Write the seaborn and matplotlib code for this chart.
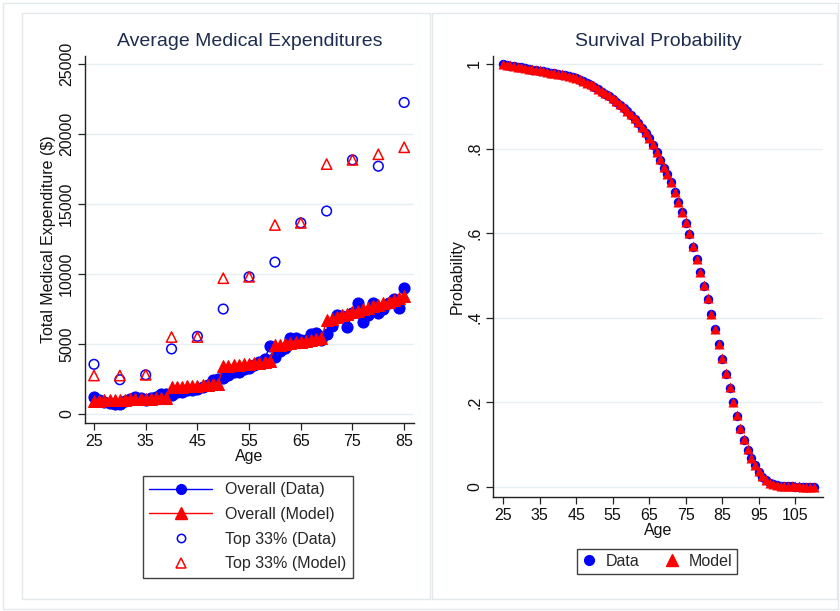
import matplotlib
matplotlib.use("Agg")
import matplotlib.pyplot as plt
import seaborn as sns
import pandas as pd
from matplotlib.patches import Rectangle
from matplotlib.lines import Line2D

# ---------------- data ----------------
ages_exp = list(range(25, 86))
overall_data = [1200, 1000, 850, 800, 700, 750, 900, 1100, 1200, 1150,
                1000, 1150, 1250, 1400, 1400, 1350, 1600, 1600, 1700, 1750,
                1800, 1900, 2100, 2400, 2500, 2600, 2800, 3000, 3000, 3200,
                3300, 3500, 3700, 3900, 4850, 4100, 4500, 4700, 5400, 5400,
                5300, 5300, 5700, 5800, 5300, 5700, 6300, 7050, 7000, 6200,
                7200, 7950, 6600, 7050, 7900, 7250, 7500, 7900, 8250, 7550, 8980]
overall_model = [950, 965, 980, 990, 1000, 1010, 1025, 1040, 1050, 1065,
                 1080, 1095, 1110, 1125, 1150,
                 1900, 1930, 1955, 1980, 2005, 2030, 2060, 2090, 2120, 2150,
                 3400, 3440, 3480, 3520, 3560, 3600, 3640, 3680, 3720, 3760,
                 4900, 4950, 5000, 5060, 5120, 5180, 5240, 5290, 5340, 5400,
                 6700, 6820, 6930, 7040, 7150, 7260, 7370, 7480, 7590, 7700,
                 7810, 7920, 8030, 8140, 8260, 8400]
ages_top = [25, 30, 35, 40, 45, 50, 55, 60, 65, 70, 75, 80, 85]
top_data = [3550, 2450, 2800, 4650, 5550, 7500, 9800, 10850, 13650, 14500, 18150, 17700, 22250]
top_model = [2750, 2750, 2800, 5500, 5500, 9700, 9800, 13500, 13650, 17850, 18150, 18550, 19050]

ages_surv = list(range(25, 111))
surv_model = [1.000, 0.998, 0.997, 0.995, 0.994, 0.992, 0.991, 0.989, 0.988, 0.986,
              0.985, 0.983, 0.982, 0.980, 0.979, 0.977, 0.976, 0.974, 0.972, 0.970,
              0.968, 0.964, 0.960, 0.956, 0.952, 0.947, 0.942, 0.937, 0.932, 0.926,
              0.920, 0.913, 0.905, 0.898, 0.890, 0.882, 0.872, 0.862, 0.851, 0.839,
              0.826, 0.810, 0.793, 0.775, 0.756, 0.741, 0.722, 0.698, 0.674, 0.650,
              0.626, 0.600, 0.569, 0.539, 0.508, 0.477, 0.446, 0.410, 0.374, 0.339,
              0.304, 0.269, 0.235, 0.201, 0.169, 0.139, 0.112, 0.089, 0.069, 0.052,
              0.037, 0.025, 0.017, 0.010, 0.006, 0.004, 0.003, 0.002, 0.001, 0.001,
              0.001, 0.001, 0.000, 0.000, 0.000, 0.000]
surv_data = [1.000, 0.998, 0.996, 0.995, 0.993, 0.992, 0.990, 0.989, 0.987, 0.986,
             0.984, 0.983, 0.981, 0.980, 0.978, 0.977, 0.975, 0.973, 0.971, 0.969,
             0.967, 0.963, 0.959, 0.955, 0.950, 0.945, 0.940, 0.935, 0.930, 0.924,
             0.918, 0.911, 0.904, 0.896, 0.888, 0.880, 0.870, 0.860, 0.849, 0.837,
             0.824, 0.809, 0.792, 0.774, 0.755, 0.739, 0.720, 0.697, 0.673, 0.649,
             0.625, 0.599, 0.568, 0.538, 0.507, 0.476, 0.444, 0.409, 0.373, 0.338,
             0.303, 0.268, 0.234, 0.200, 0.168, 0.138, 0.111, 0.088, 0.068, 0.051,
             0.036, 0.024, 0.016, 0.010, 0.006, 0.004, 0.002, 0.001, 0.001, 0.001,
             0.000, 0.000, 0.000, 0.000, 0.000, 0.000]

exp_ticks = [0, 5000, 10000, 15000, 20000, 25000]
exp_xticks = [25, 35, 45, 55, 65, 75, 85]
surv_yticks = [0, 0.2, 0.4, 0.6, 0.8, 1.0]
surv_yticklabels = ["0", ".2", ".4", ".6", ".8", "1"]
surv_xticks = [25, 35, 45, 55, 65, 75, 85, 95, 105]

# ---------------- style ----------------
sns.set_style("white")
plt.rcParams['font.family'] = ['Liberation Sans', 'DejaVu Sans']

BLUE = "#0000ff"
RED = "#ff0000"
TITLE_C = "#1e2d4f"
GRID_C = "#e6eff1"
FRAME_C = "#e3e8eb"
FS_TICK = 11.5
FS_LAB = 11.5
FS_TITLE = 14
FS_LEG = 11.5

fig = plt.figure(figsize=(8.4, 6.11), dpi=100)
W, H = 840, 611

def fr(x0, y0, x1, y1):
    return [x0 / W, 1 - y1 / H, (x1 - x0) / W, (y1 - y0) / H]

# outer frame and panel frames
fig.patches.append(Rectangle((2.5 / W, 2.5 / H), (W - 5) / W, (H - 5) / H, transform=fig.transFigure,
                             fill=False, edgecolor=FRAME_C, lw=1.0))
for (x0, x1) in [(22, 430), (432, 837)]:
    r = fr(x0, 13, x1, 599)
    fig.patches.append(Rectangle((r[0], r[1]), r[2], r[3], transform=fig.transFigure,
                                 fill=False, edgecolor=FRAME_C, lw=1.0))

def style_axes(ax):
    for s in ["top", "right"]:
        ax.spines[s].set_visible(False)
    for s in ["left", "bottom"]:
        ax.spines[s].set_color("#222222")
        ax.spines[s].set_linewidth(1.0)
    ax.tick_params(axis="both", direction="out", length=5, width=0.9, color="#222222",
                   labelsize=FS_TICK, labelcolor="#111111", left=True, bottom=True, pad=3)
    ax.grid(axis="y", color=GRID_C, lw=1.0)
    ax.grid(axis="x", visible=False)
    ax.set_axisbelow(True)
    for lbl in ax.get_yticklabels():
        lbl.set_rotation(90)
        lbl.set_va("center")

# ---------------- left panel ----------------
ax1 = fig.add_axes(fr(85, 56, 414, 423))
df_o = pd.DataFrame({"age": ages_exp, "data": overall_data, "model": overall_model})
df_t = pd.DataFrame({"age": ages_top, "data": top_data, "model": top_model})

sns.lineplot(data=df_o, x="age", y="data", ax=ax1, color=BLUE, lw=1.0,
             marker="o", markersize=8, markeredgecolor=BLUE, markerfacecolor=BLUE, zorder=3)
sns.lineplot(data=df_o, x="age", y="model", ax=ax1, color=RED, lw=1.0,
             marker="^", markersize=9, markeredgecolor=RED, markerfacecolor=RED, zorder=4)
sns.scatterplot(data=df_t, x="age", y="data", ax=ax1, marker="o", s=48,
                facecolor="none", edgecolor=BLUE, linewidth=1.1, zorder=5)
sns.scatterplot(data=df_t, x="age", y="model", ax=ax1, marker="^", s=55,
                facecolor="none", edgecolor=RED, linewidth=1.1, zorder=6)

ax1.set_xlim(23.26, 86.9)
ax1.set_ylim(-640, 25570)
ax1.set_xticks(exp_xticks)
ax1.set_yticks(exp_ticks)
ax1.set_yticklabels([str(t) for t in exp_ticks])
style_axes(ax1)
ax1.set_xlabel("Age", fontsize=FS_LAB, color="#111111", labelpad=0)
ax1.set_ylabel("Total Medical Expenditure ($)", fontsize=FS_LAB, color="#111111", labelpad=2)
ax1.set_title("Average Medical Expenditures", fontsize=FS_TITLE, color=TITLE_C, pad=7)

h1 = [Line2D([], [], color=BLUE, lw=1.0, marker="o", markersize=7, markerfacecolor=BLUE, markeredgecolor=BLUE),
      Line2D([], [], color=RED, lw=1.0, marker="^", markersize=8, markerfacecolor=RED, markeredgecolor=RED),
      Line2D([], [], color="none", marker="o", markersize=6, markerfacecolor="none", markeredgecolor=BLUE, markeredgewidth=1.1),
      Line2D([], [], color="none", marker="^", markersize=7, markerfacecolor="none", markeredgecolor=RED, markeredgewidth=1.1)]
l1 = ["Overall (Data)", "Overall (Model)", "Top 33% (Data)", "Top 33% (Model)"]
leg1 = fig.legend(h1, l1, loc="upper left", bbox_to_anchor=(143 / W, 1 - 476 / H),
                  frameon=True, fancybox=False, edgecolor="#111111", fontsize=FS_LEG,
                  handlelength=3.9, handletextpad=0.85, borderpad=0.4, labelspacing=0.6,
                  borderaxespad=0)
leg1.get_frame().set_linewidth(1.0)

# ---------------- right panel ----------------
ax2 = fig.add_axes(fr(493.3, 55.6, 823, 497))
df_s = pd.DataFrame({"age": ages_surv, "data": surv_data, "model": surv_model})
sns.scatterplot(data=df_s, x="age", y="data", ax=ax2, marker="o", s=46,
                color=BLUE, edgecolor=BLUE, linewidth=0, zorder=3)
sns.scatterplot(data=df_s, x="age", y="model", ax=ax2, marker="^", s=52,
                color=RED, edgecolor=RED, linewidth=0, zorder=4)
ax2.set_xlim(22.3, 112.6)
ax2.set_ylim(-0.024, 1.02)
ax2.set_xticks(surv_xticks)
ax2.set_yticks(surv_yticks)
ax2.set_yticklabels(surv_yticklabels)
style_axes(ax2)
ax2.set_xlabel("Age", fontsize=FS_LAB, color="#111111", labelpad=0)
ax2.set_ylabel("Probability", fontsize=FS_LAB, color="#111111", labelpad=2)
ax2.set_title("Survival Probability", fontsize=FS_TITLE, color=TITLE_C, pad=7)

h2 = [Line2D([], [], color="none", marker="o", markersize=7, markerfacecolor=BLUE, markeredgecolor=BLUE),
      Line2D([], [], color="none", marker="^", markersize=8, markerfacecolor=RED, markeredgecolor=RED)]
leg2 = fig.legend(h2, ["Data", "Model"], loc="upper left", bbox_to_anchor=(577 / W, 1 - 549 / H),
                  ncol=2, frameon=True, fancybox=False, edgecolor="#111111", fontsize=FS_LEG,
                  handlelength=0.9, handletextpad=0.6, columnspacing=1.6, borderpad=0.3,
                  borderaxespad=0)
leg2.get_frame().set_linewidth(1.0)

fig.savefig("out.png", dpi=100, facecolor="white")
